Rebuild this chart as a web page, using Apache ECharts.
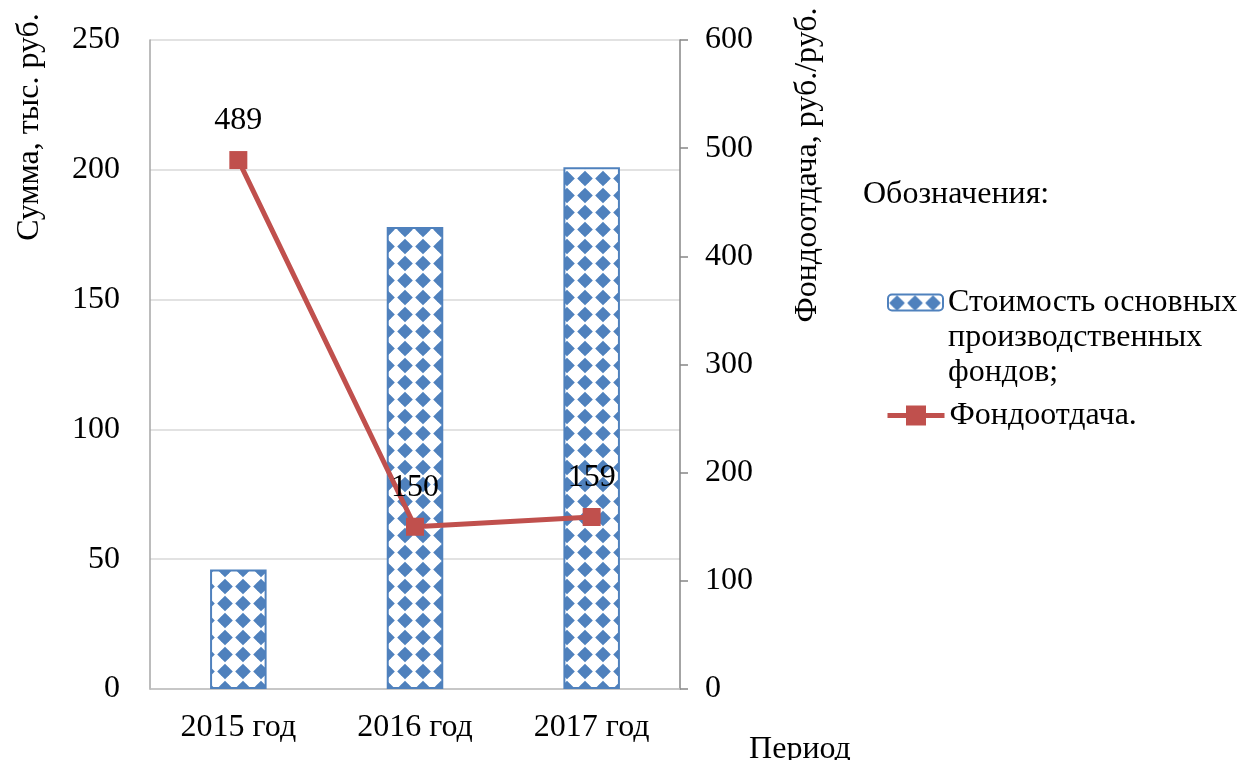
<!DOCTYPE html>
<html>
<head>
<meta charset="utf-8">
<script src="https://cdn.jsdelivr.net/npm/echarts@6/dist/echarts.min.js"></script>
<style>
html,body{margin:0;padding:0;background:#fff;}
#main{width:1237px;height:760px;}
</style>
</head>
<body>
<div id="main"></div>
<script>
var categories = ['2015 год', '2016 год', '2017 год'];
var fundsCost = [46, 178, 201];
var returnOnAssets = [489, 150, 159];
var seriesNames = ['Стоимость основных производственных фондов;', 'Фондоотдача.'];

var FONT = '"Liberation Serif", "Times New Roman", serif';
var BLUE = '#4f81bd', RED = '#c0504d';
var FS = 32;

// diamond pattern for bars (blue diamonds, white gaps)
function makePattern() {
    var w = 18, h = 17, r = 7.8;
    var c = document.createElement('canvas');
    c.width = w; c.height = h;
    var g = c.getContext('2d');
    g.fillStyle = '#fff';
    g.fillRect(0, 0, w, h);
    g.fillStyle = BLUE;
    var cx = w / 2, cy = h / 2;
    g.beginPath();
    g.moveTo(cx, cy - r);
    g.lineTo(cx + r, cy);
    g.lineTo(cx, cy + r);
    g.lineTo(cx - r, cy);
    g.closePath();
    g.fill();
    g.beginPath();
    g.arc(cx, cy, 5.2, 0, Math.PI * 2);
    g.fill();
    return c;
}

var legendText = {fontSize: FS, color: '#000', fontFamily: FONT, lineHeight: 35};

var option = {
    animation: false,
    textStyle: {fontFamily: FONT},
    grid: {left: 150, right: 557, top: 40, bottom: 71},
    legend: [{
        orient: 'vertical',
        left: 882,
        top: 210,
        itemWidth: 55,
        itemHeight: 16,
        data: [seriesNames[0]],
        formatter: function () {
            return '\n\nСтоимость основных\nпроизводственных\nфондов;';
        },
        textStyle: legendText
    }, {
        orient: 'vertical',
        left: 880,
        top: 393,
        itemWidth: 57,
        itemHeight: 25,
        data: [seriesNames[1]],
        lineStyle: {width: 5},
        textStyle: legendText
    }],
    xAxis: {
        type: 'category',
        data: categories,
        axisLine: {lineStyle: {color: '#bfbfbf', width: 1.5}},
        axisTick: {show: false},
        axisLabel: {color: '#000', fontSize: FS, margin: 23, fontFamily: FONT}
    },
    yAxis: [{
        type: 'value',
        min: 0, max: 250, interval: 50,
        axisLine: {show: true, lineStyle: {color: '#a6a6a6', width: 1.5}},
        axisTick: {show: false},
        axisLabel: {color: '#000', fontSize: FS, margin: 30, fontFamily: FONT},
        splitLine: {lineStyle: {color: '#d9d9d9', width: 1.5}}
    }, {
        type: 'value',
        min: 0, max: 600, interval: 100,
        position: 'right',
        axisLine: {show: true, lineStyle: {color: '#868686', width: 1.5}},
        axisTick: {show: true, length: 8, lineStyle: {color: '#868686', width: 1.5}},
        axisLabel: {color: '#000', fontSize: FS, margin: 25, fontFamily: FONT},
        splitLine: {show: false}
    }],
    series: [{
        name: seriesNames[0],
        type: 'bar',
        data: fundsCost,
        barWidth: '32%',
        itemStyle: {
            color: {image: makePattern(), repeat: 'repeat'},
            borderColor: BLUE,
            borderWidth: 2
        }
    }, {
        name: seriesNames[1],
        type: 'line',
        yAxisIndex: 1,
        data: returnOnAssets,
        symbol: 'rect',
        symbolSize: 18,
        lineStyle: {color: RED, width: 5},
        itemStyle: {color: RED},
        label: {show: true, position: 'top', distance: 14, color: '#000', fontSize: FS, fontFamily: FONT}
    }],
    graphic: [
        {type: 'text', x: 30, y: 127, rotation: Math.PI / 2,
            style: {text: 'Сумма, тыс. руб.', font: FS + 'px ' + FONT, fill: '#000', align: 'center', verticalAlign: 'middle'}},
        {type: 'text', x: 808, y: 165, rotation: Math.PI / 2,
            style: {text: 'Фондоотдача, руб./руб.', font: FS + 'px ' + FONT, fill: '#000', align: 'center', verticalAlign: 'middle'}},
        {type: 'text', x: 800, y: 750,
            style: {text: 'Период', font: FS + 'px ' + FONT, fill: '#000', align: 'center', verticalAlign: 'middle'}},
        {type: 'text', x: 863, y: 195,
            style: {text: 'Обозначения:', font: FS + 'px ' + FONT, fill: '#000', align: 'left', verticalAlign: 'middle'}}
    ]
};

echarts.init(document.getElementById('main')).setOption(option);
</script>
</body>
</html>
